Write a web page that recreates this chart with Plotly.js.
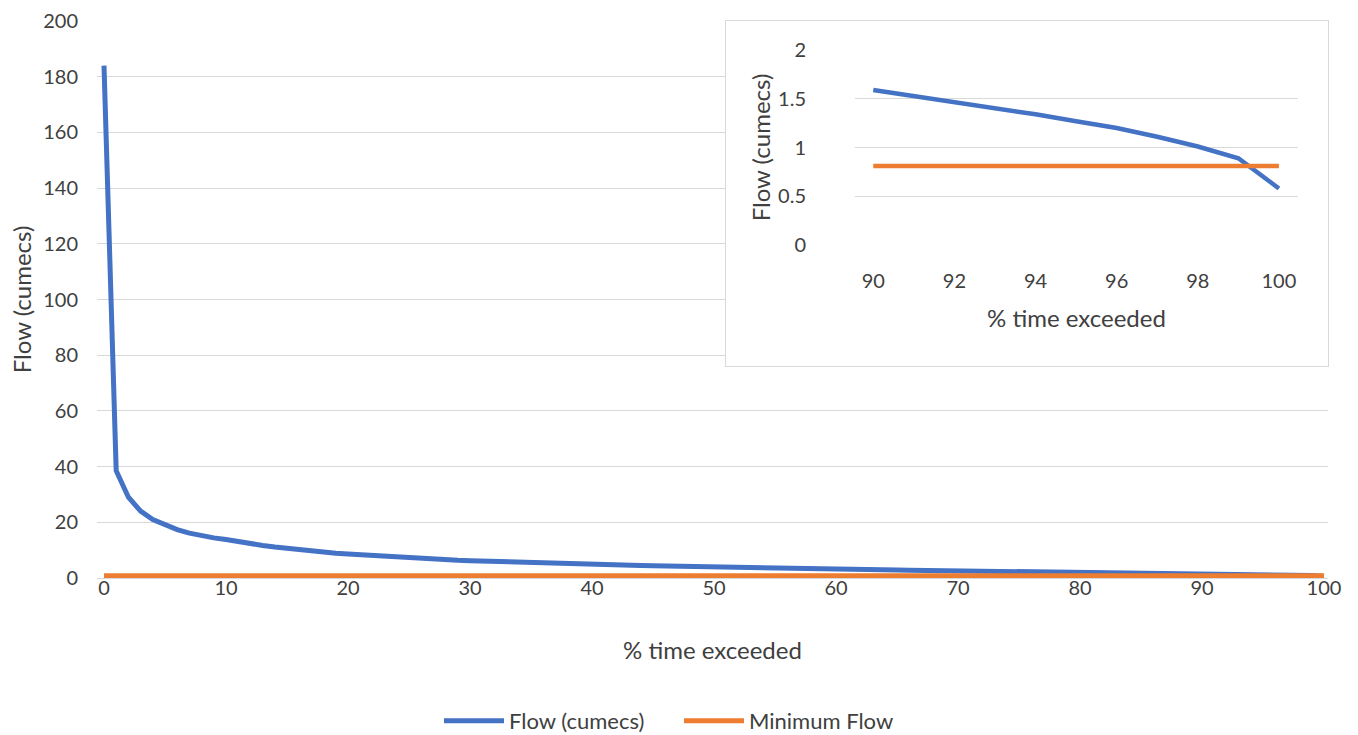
<!DOCTYPE html>
<html>
<head>
<meta charset="utf-8">
<script src="https://cdn.plot.ly/plotly-3.0.1.min.js"></script>
<style>html,body{margin:0;padding:0;background:#fff;}#chart{width:1358px;height:735px;}</style>
</head>
<body>
<div id="chart"></div>
<script>
// % time exceeded (0..100 in steps of 1)
const pctExceeded = [0,1,2,3,4,5,6,7,8,9,10,11,12,13,14,15,16,17,18,19,20,21,22,23,24,25,26,27,28,29,30,31,32,33,34,35,36,37,38,39,40,41,42,43,44,45,46,47,48,49,50,51,52,53,54,55,56,57,58,59,60,61,62,63,64,65,66,67,68,69,70,71,72,73,74,75,76,77,78,79,80,81,82,83,84,85,86,87,88,89,90,91,92,93,94,95,96,97,98,99,100];
// Flow (cumecs)
const flowCumecs = [184,38.5,29,24,21,19,17.4,16.1,15.1,14.4,13.8,13.0,12.3,11.7,11.1,10.6,10.1,9.7,9.3,8.9,8.6,8.3,8.0,7.7,7.4,7.1,6.9,6.7,6.5,6.35,6.2,6.05,5.9,5.75,5.6,5.45,5.35,5.2,5.1,5.0,4.9,4.8,4.7,4.6,4.5,4.4,4.3,4.2,4.1,4.0,3.9,3.8,3.7,3.6,3.5,3.45,3.35,3.3,3.2,3.15,3.1,3.05,3.0,2.95,2.9,2.85,2.8,2.75,2.7,2.65,2.6,2.55,2.5,2.45,2.4,2.35,2.3,2.25,2.2,2.15,2.1,2.05,2.0,1.95,1.9,1.85,1.8,1.75,1.7,1.65,1.59,1.53,1.47,1.41,1.34,1.27,1.2,1.11,1.01,0.89,0.58];
// Minimum flow (constant)
const minimumFlowValue = 0.81;
const minimumFlow = pctExceeded.map(() => minimumFlowValue);
// Inset range
const insetStart = 90;
const insetX = pctExceeded.filter(p => p >= insetStart);
const insetFlow = flowCumecs.filter((v, i) => pctExceeded[i] >= insetStart);
const insetMin = minimumFlow.filter((v, i) => pctExceeded[i] >= insetStart);

const BLUE = '#4472C4', ORANGE = '#ED7D31', GRID = '#d9d9d9', TXT = '#404040';
const FONT = 'Lato, "Noto Sans", sans-serif';
const TICK = 20, TITLE = 24;

const traces = [
  {x: pctExceeded, y: flowCumecs, type: 'scatter', mode: 'lines', name: 'Flow (cumecs)',
   line: {color: BLUE, width: 5}, xaxis: 'x', yaxis: 'y'},
  {x: pctExceeded, y: minimumFlow, type: 'scatter', mode: 'lines', name: 'Minimum Flow',
   line: {color: ORANGE, width: 5}, xaxis: 'x', yaxis: 'y'},
  // empty trace for the white inset box subplot
  {x: [], y: [], type: 'scatter', mode: 'lines', showlegend: false, hoverinfo: 'skip', xaxis: 'x2', yaxis: 'y2'},
  {x: insetX, y: insetFlow, type: 'scatter', mode: 'lines', showlegend: false,
   line: {color: BLUE, width: 4.5}, xaxis: 'x3', yaxis: 'y3'},
  {x: insetX, y: insetMin, type: 'scatter', mode: 'lines', showlegend: false,
   line: {color: ORANGE, width: 4.5}, xaxis: 'x3', yaxis: 'y3'}
];

const L = 97, R = 1328, T = 21, B = 578;
const W = R - L, H = B - T;
const px = v => (v - L) / W;
const py = v => (B - v) / H;

const layout = {
  width: 1358, height: 735,
  margin: {l: L, r: 1358 - R, t: T, b: 735 - B, autoexpand: false},
  paper_bgcolor: '#fff', plot_bgcolor: '#fff',
  font: {family: FONT, size: TICK, color: TXT},
  showlegend: true,
  legend: {orientation: 'h', x: px(679), xanchor: 'center', y: py(721), yanchor: 'middle',
           font: {size: 22, color: TXT}, itemwidth: 60, entrywidth: 165, tracegroupgap: 0},
  xaxis: {domain: [0, 1], range: [-0.574, 100.33], tickvals: [0,10,20,30,40,50,60,70,80,90,100],
          showgrid: false, zeroline: false, automargin: false,
          showline: true, linecolor: GRID, linewidth: 1, ticks: '', ticklabelstandoff: -8,
          tickfont: {size: TICK, color: TXT},
          title: {text: '% time exceeded', font: {size: TITLE, color: TXT}, standoff: 44}},
  yaxis: {domain: [0, 1], range: [0, 200], dtick: 20, showgrid: true, gridcolor: GRID, gridwidth: 1,
          zeroline: false, showline: false, ticks: '', automargin: false, ticklabelstandoff: 18,
          tickfont: {size: TICK, color: TXT},
          title: {text: 'Flow (cumecs)', font: {size: TITLE, color: TXT}, standoff: 4}},
  xaxis2: {domain: [px(726), 1], range: [0, 1], anchor: 'y2', showgrid: false, zeroline: false,
           showticklabels: false, ticks: '', showline: true, mirror: true, linecolor: GRID, linewidth: 1},
  yaxis2: {domain: [py(366), 1], range: [0, 1], anchor: 'x2', showgrid: false, zeroline: false,
           showticklabels: false, ticks: '', showline: true, mirror: true, linecolor: GRID, linewidth: 1},
  xaxis3: {domain: [px(855), px(1298)], range: [89.55, 100.47], tickvals: [90,92,94,96,98,100],
           anchor: 'y3', showgrid: false, automargin: false,
           zeroline: false, showline: false, ticks: '', ticklabelstandoff: 22,
           tickfont: {size: TICK, color: TXT},
           title: {text: '% time exceeded', font: {size: TITLE, color: TXT}, standoff: 19}},
  yaxis3: {domain: [py(245), py(50)], range: [0, 2], dtick: 0.5, anchor: 'x3', showgrid: true,
           gridcolor: GRID, gridwidth: 1, zeroline: false, showline: false, ticks: '', automargin: false,
           ticklabelstandoff: 48, tickfont: {size: TICK, color: TXT},
           title: {text: 'Flow (cumecs)', font: {size: TITLE, color: TXT}, standoff: 0}}
};

Plotly.newPlot('chart', traces, layout, {staticPlot: true, displayModeBar: false});
</script>
</body>
</html>
